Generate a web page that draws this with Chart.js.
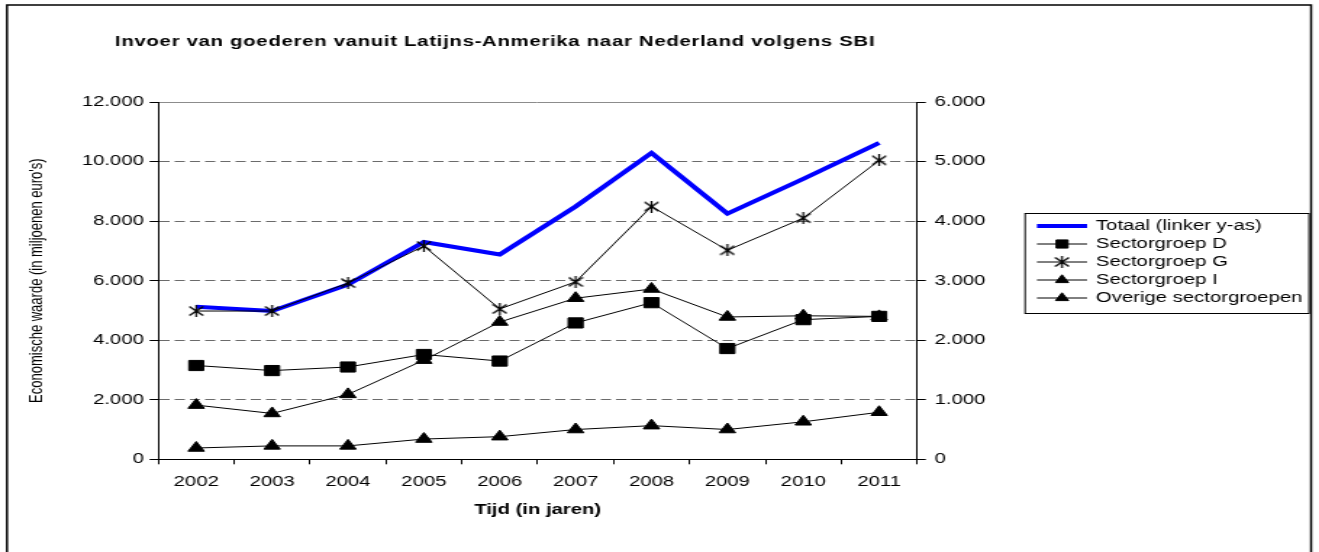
<!DOCTYPE html>
<html>
<head>
<meta charset="utf-8">
<script src="https://cdn.jsdelivr.net/npm/chart.js@4.4.0/dist/chart.umd.min.js"></script>
<style>
  html, body { margin: 0; padding: 0; background: #fff; overflow: hidden; }
  /* the reference is a horizontally stretched picture, so the chart is drawn narrow and stretched */
  #wrap { position: absolute; left: 0; top: 0; width: 910px; height: 552px; transform-origin: 0 0; transform: scaleX(1.4495); }
</style>
</head>
<body>
<div id="wrap"><canvas id="importChart"></canvas></div>
<script>
// Data (miljoenen euro's)
const years = ['2002', '2003', '2004', '2005', '2006', '2007', '2008', '2009', '2010', '2011'];
const totaal = [5120, 4980, 5870, 7300, 6880, 8490, 10290, 8250, 9420, 10630];   // linker y-as
const sectorD = [1575, 1490, 1550, 1760, 1650, 2290, 2630, 1860, 2345, 2400];      // rechter y-as
const sectorG = [2490, 2490, 2960, 3580, 2525, 2980, 4245, 3510, 4050, 5020];
const sectorI = [910, 770, 1090, 1665, 2305, 2705, 2860, 2390, 2410, 2400];
const overige = [190, 225, 225, 340, 380, 500, 565, 500, 630, 790];
const leftMax = 12000, leftStep = 2000;
const rightMax = 6000, rightStep = 1000;

const chartTitle = 'Invoer van goederen vanuit Latijns-Anmerika naar Nederland volgens SBI';
const xTitle = 'Tijd (in jaren)';
const yTitle = "Economische waarde (in miljoenen euro's)";

Chart.defaults.font.family = '"Liberation Sans", Arial, sans-serif';
Chart.defaults.color = '#000';

// dutch thousands separator
function fmt(v) {
    return String(v).replace(/\B(?=(\d{3})+(?!\d))/g, '.');
}

// asterisk marker like the excel one (X with a vertical bar)
function makeStar(w, h) {
    const c = document.createElement('canvas');
    c.width = w;
    c.height = h;
    const g = c.getContext('2d');
    g.strokeStyle = '#000';
    g.lineWidth = 1.3;
    g.beginPath();
    g.moveTo(0.7, 1.5); g.lineTo(w - 0.7, h - 1.5);
    g.moveTo(w - 0.7, 1.5); g.lineTo(0.7, h - 1.5);
    g.moveTo(w / 2, 0); g.lineTo(w / 2, h);
    g.stroke();
    return c;
}
const starMarker = makeStar(11, 12);

// frame round the whole thing + the title
const framePlugin = {
    id: 'frameTitle',
    afterDraw(chart) {
        const ctx = chart.ctx;
        ctx.save();
        ctx.strokeStyle = '#000';
        ctx.lineWidth = 1.5;
        ctx.strokeRect(4.8, 5, 899.7, 600);
        ctx.fillStyle = '#000';
        ctx.font = 'bold 14px "Liberation Sans", Arial, sans-serif';
        ctx.textBaseline = 'middle';
        ctx.textAlign = 'left';
        // excel spaced the title out a bit
        const w = ctx.measureText(chartTitle).width;
        if ('letterSpacing' in ctx) {
            ctx.letterSpacing = Math.max(0, (524 - w) / (chartTitle.length - 1)) + 'px';
        }
        ctx.fillText(chartTitle, 79.3, 42);
        ctx.restore();
    }
};

// boxed legend on the right, built from the datasets
const legendPlugin = {
    id: 'boxLegend',
    afterDraw(chart) {
        const ctx = chart.ctx;
        ctx.save();
        ctx.strokeStyle = '#000';
        ctx.lineWidth = 1;
        ctx.strokeRect(707.2, 213.5, 195.9, 100);
        chart.data.datasets.forEach((ds, i) => {
            const y = 226 + i * 18;
            ctx.strokeStyle = ds.borderColor;
            ctx.lineWidth = ds.borderWidth;
            ctx.beginPath();
            ctx.moveTo(715.4, y);
            ctx.lineTo(750, y);
            ctx.stroke();
            if (ds.pointRadius > 0) {
                ctx.fillStyle = ds.pointBackgroundColor;
                ctx.strokeStyle = ds.pointBorderColor;
                ctx.lineWidth = 1;
                Chart.helpers.drawPoint(ctx, {
                    pointStyle: ds.pointStyle,
                    radius: ds.pointRadius * 0.8,
                    rotation: 0,
                    borderWidth: 1
                }, 732.7, y);
            }
            ctx.fillStyle = '#000';
            ctx.font = '14px "Liberation Sans", Arial, sans-serif';
            ctx.textBaseline = 'middle';
            ctx.textAlign = 'left';
            ctx.fillText(ds.label, 756.1, y);
        });
        ctx.restore();
    }
};

function blackLine(label, data, style, radius) {
    return {
        label: label,
        data: data,
        yAxisID: 'y2',
        borderColor: '#000',
        borderWidth: 1,
        pointStyle: style,
        pointRadius: radius,
        pointHoverRadius: radius,
        pointBackgroundColor: '#000',
        pointBorderColor: '#000',
        pointBorderWidth: 1,
        tension: 0,
        order: 0
    };
}

const ctx = document.getElementById('importChart').getContext('2d');
const importChart = new Chart(ctx, {
    type: 'line',
    data: {
        labels: years,
        datasets: [
            {
                label: 'Totaal (linker y-as)',
                data: totaal,
                yAxisID: 'y',
                borderColor: '#0000ff',
                borderWidth: 4,
                pointRadius: 0,
                pointHoverRadius: 0,
                tension: 0,
                order: 1
            },
            blackLine('Sectorgroep D', sectorD, 'rect', 7.2),
            blackLine('Sectorgroep G', sectorG, starMarker, 6),
            blackLine('Sectorgroep I', sectorI, 'triangle', 6.5),
            blackLine('Overige sectorgroepen', overige, 'triangle', 6.5)
        ]
    },
    options: {
        responsive: true,
        maintainAspectRatio: false,
        animation: false,
        events: [],
        layout: { padding: { left: 0, right: 217.3, top: 102, bottom: 0 } },
        plugins: {
            legend: { display: false },
            tooltip: { enabled: false }
        },
        scales: {
            x: {
                offset: true,
                grid: { offset: true, drawOnChartArea: false, tickLength: 5, color: '#000' },
                border: { color: '#000', width: 1 },
                ticks: { color: '#000', font: { size: 14 }, padding: 9, maxRotation: 0, autoSkip: false },
                title: {
                    display: true,
                    text: xTitle,
                    color: '#000',
                    font: { size: 14, weight: 'bold' },
                    padding: { top: 0, bottom: 33.6 }
                },
                afterFit(scale) { scale.height = 92.7; }
            },
            y: {
                position: 'left',
                min: 0,
                max: leftMax,
                ticks: { stepSize: leftStep, color: '#000', font: { size: 14 }, padding: 4, callback: fmt },
                grid: {
                    color: c => (c.tick && (c.tick.value === 0 || c.tick.value === leftMax)) ? 'rgba(0,0,0,0)' : '#6b6b6b',
                    tickColor: '#000',
                    tickLength: 6
                },
                border: { color: '#000', width: 1, dash: [7, 3.5] },
                title: {
                    display: true,
                    text: yTitle,
                    color: '#000',
                    font: { size: 13 },
                    padding: { top: 17.7, bottom: 0 }
                },
                afterFit(scale) { scale.width = 109.2; }
            },
            y2: {
                position: 'right',
                min: 0,
                max: rightMax,
                ticks: { stepSize: rightStep, color: '#000', font: { size: 14 }, padding: 6, callback: fmt },
                grid: {
                    color: c => (c.tick && c.tick.value === rightMax) ? '#8c8c8c' : 'rgba(0,0,0,0)',
                    tickColor: '#000',
                    tickLength: 6
                },
                border: { color: '#000', width: 1 },
                afterFit(scale) { scale.width = 60; }
            }
        }
    },
    plugins: [framePlugin, legendPlugin]
});
</script>
</body>
</html>
